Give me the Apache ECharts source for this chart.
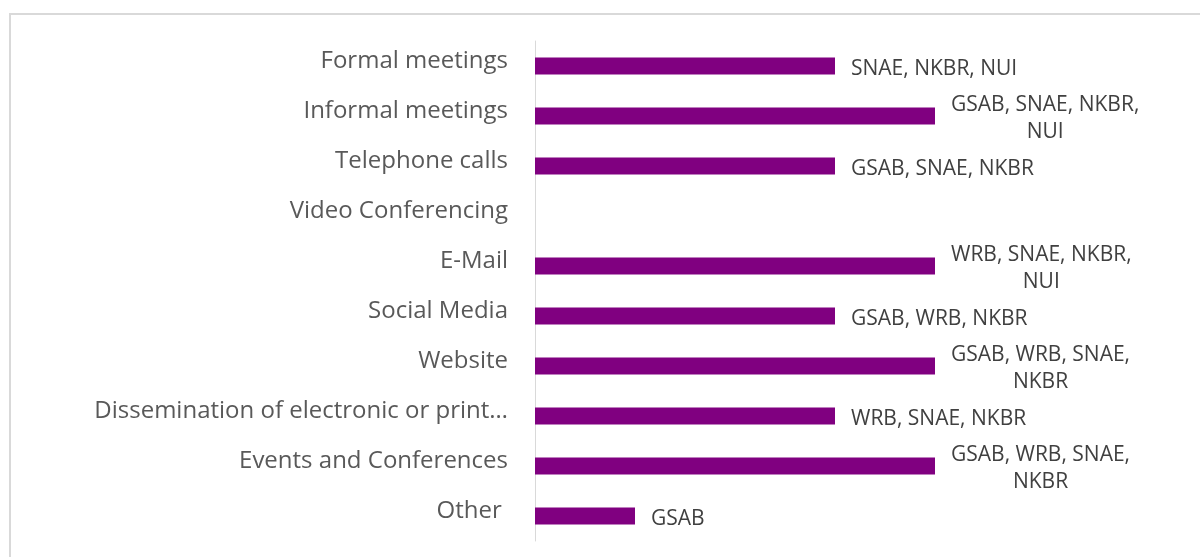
<!DOCTYPE html>
<html>
<head>
<meta charset="utf-8">
<script src="https://cdn.jsdelivr.net/npm/echarts@6/dist/echarts.min.js"></script>
<style>
html,body{margin:0;padding:0;background:#fff;}
#chart{width:1200px;height:557px;}
</style>
</head>
<body>
<div id="chart"></div>
<script>
const categories = [
  "Formal meetings",
  "Informal meetings",
  "Telephone calls",
  "Video Conferencing",
  "E-Mail",
  "Social Media",
  "Website",
  "Dissemination of electronic or print…",
  "Events and Conferences",
  "Other "
];
const values = [3, 4, 3, 0, 4, 3, 4, 3, 4, 1];
const organisations = [
  "SNAE, NKBR, NUI",
  "GSAB, SNAE, NKBR,\nNUI",
  "GSAB, SNAE, NKBR",
  "",
  "WRB, SNAE, NKBR,\nNUI",
  "GSAB, WRB, NKBR",
  "GSAB, WRB, SNAE,\nNKBR",
  "WRB, SNAE, NKBR",
  "GSAB, WRB, SNAE,\nNKBR",
  "GSAB"
];

const chart = echarts.init(document.getElementById('chart'));
const FONT = 'Open Sans';
chart.setOption({
  animation: false,
  backgroundColor: '#ffffff',
  graphic: [{
    type: 'rect',
    shape: { x: 10, y: 14, width: 1250, height: 650 },
    style: { fill: 'none', stroke: '#d9d9d9', lineWidth: 2 },
    silent: true
  }],
  grid: { left: 535, right: 65, top: 41, bottom: 16, containLabel: false },
  xAxis: {
    type: 'value', min: 0, max: 6, interval: 1,
    axisLine: { show: false }, axisTick: { show: false },
    axisLabel: { show: false }, splitLine: { show: false }
  },
  yAxis: {
    type: 'category',
    inverse: true,
    data: categories,
    axisLine: { show: true, lineStyle: { color: '#d9d9d9', width: 1 } },
    axisTick: { show: false },
    axisLabel: {
      interval: 0,
      color: '#595959', fontFamily: FONT, fontSize: 24, margin: 27,
      verticalAlign: 'bottom', lineHeight: 10
    }
  },
  series: [{
    type: 'bar',
    data: values,
    barWidth: 17,
    itemStyle: { color: '#800080' },
    label: {
      show: true,
      position: 'right',
      distance: 16,
      offset: [0, 3],
      formatter: p => organisations[p.dataIndex].split('\n').map(l => '{c|' + l + '}').join('\n'),
      rich: {
        c: { align: 'center', color: '#404040', fontFamily: FONT, fontSize: 21, lineHeight: 27 }
      }
    }
  }]
});
</script>
</body>
</html>
